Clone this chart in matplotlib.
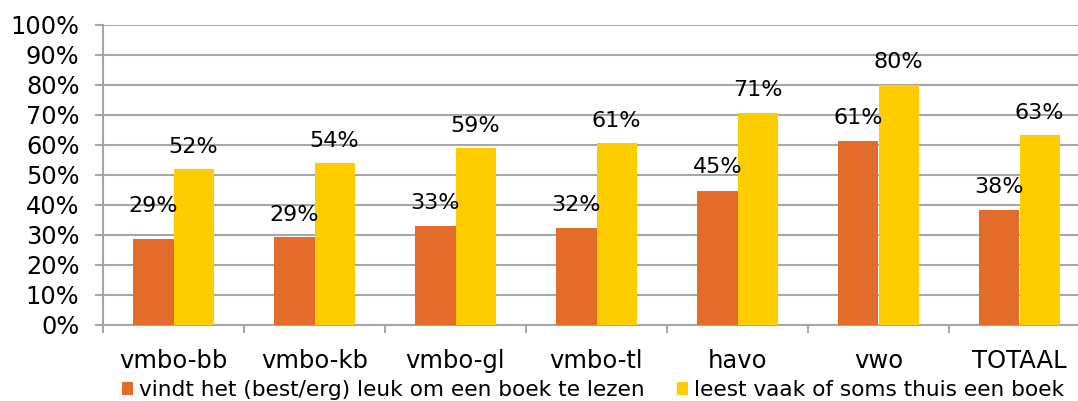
import matplotlib
matplotlib.use("Agg")
import matplotlib.pyplot as plt
import numpy as np
from matplotlib.ticker import MultipleLocator, FuncFormatter
from matplotlib.patches import Patch

categories = ["vmbo-bb", "vmbo-kb", "vmbo-gl", "vmbo-tl", "havo", "vwo", "TOTAAL"]
series_names = ["vindt het (best/erg) leuk om een boek te lezen",
                "leest vaak of soms thuis een boek"]
leuk = [28.7, 29.3, 33.0, 32.4, 44.6, 61.2, 38.4]
leest = [52.0, 54.0, 59.0, 60.6, 70.8, 80.0, 63.2]
label_offsets_leuk = [33, 22, 23, 23, 24, 23, 23]   # px above bar top
label_offsets_leest = [22, 22, 22, 22, 23, 23, 22]

orange = "#E46C2B"
yellow = "#FFCC00"
grid_c = "#A6A6A6"

plt.rcParams['font.family'] = ['DejaVu Sans']
fig = plt.figure(figsize=(10.78, 4.01), dpi=100)
W, H = 1078, 401
ax = fig.add_axes([103 / W, 76 / H, 987 / W, 300 / H])

x = np.arange(len(categories))
bw = 0.284
ax.bar(x - bw / 2, leuk, bw, color=orange, zorder=3)
ax.bar(x + bw / 2, leest, bw, color=yellow, zorder=3)

fs = 16
for xi, v, off in zip(x, leuk, label_offsets_leuk):
    ax.annotate(f"{round(v)}%", (xi - bw / 2, v), xytext=(0, off * 0.72),
                textcoords="offset points", ha="center", va="center", fontsize=fs, zorder=4)
for xi, v, off in zip(x, leest, label_offsets_leest):
    ax.annotate(f"{round(v)}%", (xi + bw / 2, v), xytext=(0, off * 0.72),
                textcoords="offset points", ha="center", va="center", fontsize=fs, zorder=4)

ax.set_xlim(-0.5, len(categories) - 0.5)
ax.set_ylim(0, 100)
ax.yaxis.set_major_locator(MultipleLocator(10))
ax.yaxis.set_major_formatter(FuncFormatter(lambda v, p: f"{int(round(v))}%"))
ax.set_xticks(x)
ax.set_xticklabels(categories)
ax.set_xticks(np.arange(-0.5, len(categories), 1.0), minor=True)
ax.tick_params(axis='x', which='major', length=0, pad=17.5, labelsize=17.5)
ax.tick_params(axis='x', which='minor', length=6, width=1.5, color=grid_c, direction='out')
ax.tick_params(axis='y', which='major', length=6, width=1.5, color=grid_c, labelsize=17.3, pad=11)
ax.grid(axis='y', color=grid_c, linewidth=1.5, zorder=0)
ax.set_axisbelow(True)
for s in ["top", "right"]:
    ax.spines[s].set_visible(False)
for s in ["left", "bottom"]:
    ax.spines[s].set_color(grid_c)
    ax.spines[s].set_linewidth(1.5)

handles = [Patch(facecolor=orange, edgecolor='none'), Patch(facecolor=yellow, edgecolor='none')]
fig.legend(handles, series_names, loc="center", bbox_to_anchor=(593 / W, 1 - 390 / H),
           ncol=2, frameon=False, fontsize=15.6, handlelength=0.52, handleheight=0.55,
           handletextpad=0.28, columnspacing=1.5, borderpad=0)

fig.savefig("out.png", dpi=100)
